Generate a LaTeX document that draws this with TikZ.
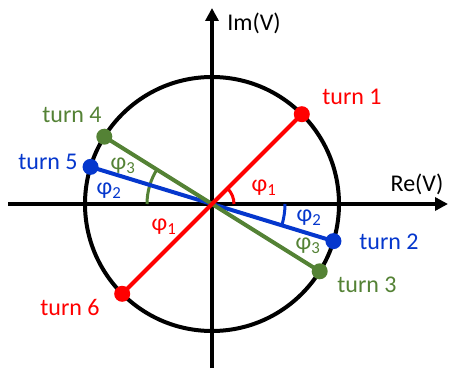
\documentclass[tikz,border=0pt]{standalone}
\usepackage{fontspec}
\setmainfont{Carlito}
\usetikzlibrary{arrows.meta,calc}
\definecolor{cred}{RGB}{255,0,0}
\definecolor{cblue}{RGB}{5,55,205}
\definecolor{cgreen}{RGB}{84,130,53}
\tikzset{
  axis/.style={line width=3.5pt,-{Triangle[width=13pt,length=13pt]}},
  ray/.style={line width=4pt},
  arcline/.style={line width=3pt},
  dot/.style={circle,fill,inner sep=0pt,minimum size=16pt},
  lbl/.style={font=\fontsize{24}{28}\selectfont,inner sep=0pt},
  ang/.style={font=\fontsize{24}{28}\selectfont,inner sep=0pt}
}
\newcommand{\phisub}[1]{φ\textsubscript{#1}}
\begin{document}
\begin{tikzpicture}[x=1pt,y=1pt]
\useasboundingbox (0,0) rectangle (458,370);
\coordinate (O) at (212,166);
% axes
\coordinate (xs) at (8,166);
\coordinate (xe) at (448,166);
\coordinate (ys) at (212,2);
\coordinate (ye) at (212,362);
\draw[axis] (xs) -- (xe);
\draw[axis] (ys) -- (ye);
% circle
\draw[line width=4pt] (O) circle (127);
% arcs
\draw[arcline,cblue] ($(O)+(-17:73)$) arc (-17:0:73);
\draw[arcline,cgreen] ($(O)+(148:65)$) arc (148:180:65);
\draw[arcline,cred] ($(O)+(0:22)$) arc (0:45:22);
% rays
\path (O) ++(45:127) coordinate (p1);
\path (O) ++(-17:127) coordinate (p2);
\path (O) ++(-32:127) coordinate (p3);
\path (O) ++(148:127) coordinate (p4);
\path (O) ++(163:127) coordinate (p5);
\path (O) ++(225:127) coordinate (p6);
\draw[ray,cblue] (p5) -- (p2);
\draw[ray,cgreen] (p4) -- (p3);
\draw[ray,cred] (p6) -- (p1);
\node[dot,cred] (d1) at (p1) {};
\node[dot,cblue] (d2) at (p2) {};
\node[dot,cgreen] (d3) at (p3) {};
\node[dot,cgreen] (d4) at (p4) {};
\node[dot,cblue] (d5) at (p5) {};
\node[dot,cred] (d6) at (p6) {};
% labels
\node[lbl] (im) at (254,347) {Im(V)};
\node[lbl] (re) at (417,186) {Re(V)};
\node[lbl,cred] (l1) at (352,273) {turn 1};
\node[lbl,cblue] (l2) at (389,128) {turn 2};
\node[lbl,cgreen] (l3) at (367,85) {turn 3};
\node[lbl,cgreen] (l4) at (72,255) {turn 4};
\node[lbl,cblue] (l5) at (48,208) {turn 5};
\node[lbl,cred] (l6) at (70,63) {turn 6};
% angle labels
\node[ang,cred] (a1r) at (264,182) {\phisub{1}};
\node[ang,cblue] (a2r) at (309,152) {\phisub{2}};
\node[ang,cgreen] (a3r) at (308,124) {\phisub{3}};
\node[ang,cgreen] (a3l) at (123,204) {\phisub{3}};
\node[ang,cblue] (a2l) at (109,179) {\phisub{2}};
\node[ang,cred] (a1l) at (164,143) {\phisub{1}};
\end{tikzpicture}
\end{document}
